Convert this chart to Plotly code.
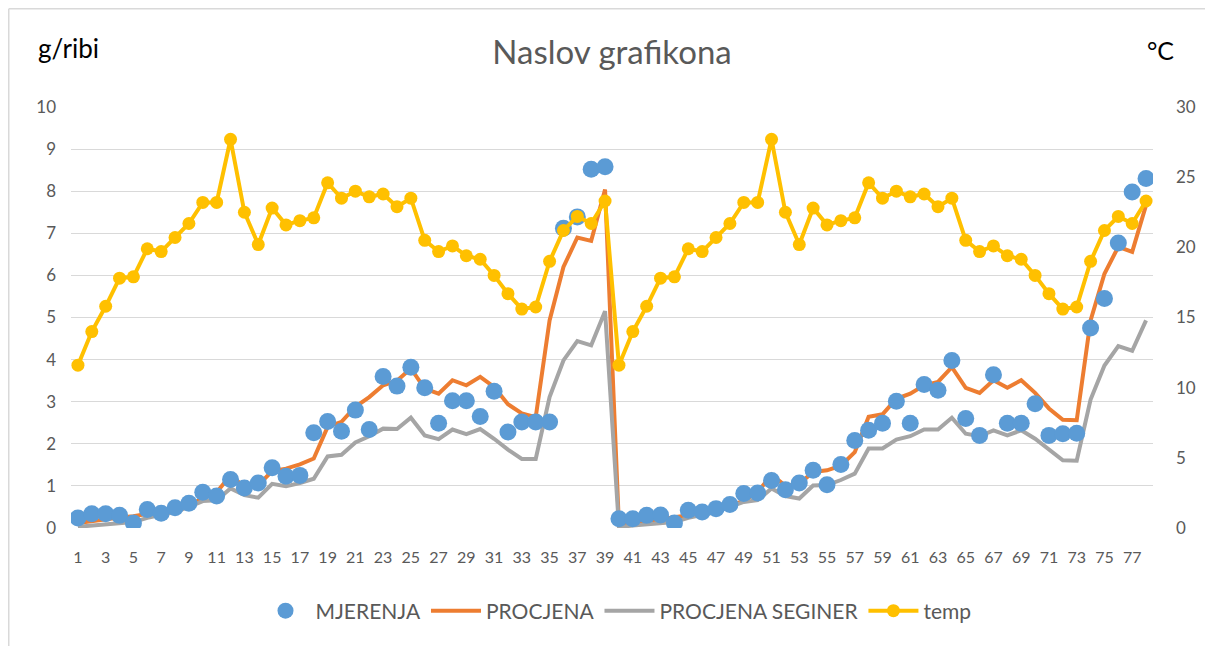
import plotly.graph_objects as go

categories = list(range(1, 79))
tick_labels = [str(i) for i in range(1, 79, 2)]

mjerenja = [0.24, 0.34, 0.34, 0.30, 0.12, 0.44, 0.35, 0.48, 0.59, 0.85, 0.76, 1.15, 0.95, 1.07, 1.43, 1.23, 1.25, 2.26, 2.53, 2.30, 2.80,
            2.34, 3.60, 3.37, 3.82, 3.33, 2.49, 3.02, 3.02, 2.65, 3.25, 2.28, 2.52, 2.52, 2.52, 7.12, 7.39, 8.52, 8.58,
            0.22, 0.22, 0.30, 0.31, 0.12, 0.42, 0.38, 0.46, 0.56, 0.82, 0.83, 1.13, 0.91, 1.07, 1.37, 1.03, 1.51, 2.08, 2.32,
            2.49, 3.01, 2.49, 3.41, 3.27, 3.98, 2.60, 2.20, 3.64, 2.49, 2.49, 2.95, 2.20, 2.24, 2.25, 4.75, 5.45, 6.77, 7.98, 8.30]

procjena = [0.12, 0.17, 0.21, 0.25, 0.28, 0.33, 0.38, 0.45, 0.55, 0.70, 0.85, 1.25, 0.98, 1.02, 1.35, 1.41, 1.51, 1.65, 2.40, 2.52,
            2.88, 3.11, 3.39, 3.50, 3.79, 3.31, 3.19, 3.51, 3.39, 3.59, 3.35, 2.94, 2.72, 2.63, 4.93, 6.20, 6.90, 6.82, 8.04,
            0.05, 0.12, 0.17, 0.21, 0.25, 0.30, 0.35, 0.42, 0.52, 0.65, 0.85, 1.27, 1.00, 1.05, 1.33, 1.37, 1.48, 1.80, 2.64,
            2.70, 3.07, 3.19, 3.39, 3.47, 3.82, 3.33, 3.21, 3.51, 3.33, 3.51, 3.21, 2.84, 2.57, 2.56, 4.93, 6.04, 6.68, 6.56, 7.67]

procjena_seginer = [0.03, 0.06, 0.09, 0.12, 0.14, 0.24, 0.30, 0.38, 0.50, 0.64, 0.66, 0.94, 0.78, 0.72, 1.05, 0.99, 1.07, 1.17, 1.70,
                    1.74, 2.03, 2.18, 2.36, 2.35, 2.62, 2.20, 2.11, 2.34, 2.23, 2.35, 2.12, 1.86, 1.64, 1.64, 3.11, 3.98, 4.44, 4.34, 5.15,
                    0.02, 0.06, 0.09, 0.12, 0.14, 0.24, 0.30, 0.38, 0.50, 0.62, 0.66, 0.94, 0.76, 0.70, 1.01, 1.02, 1.14, 1.29, 1.89,
                    1.89, 2.10, 2.18, 2.34, 2.34, 2.62, 2.24, 2.18, 2.32, 2.20, 2.32, 2.12, 1.85, 1.61, 1.60, 3.05, 3.86, 4.32, 4.21, 4.93]

temp = [11.6, 14.0, 15.8, 17.8, 17.9, 19.9, 19.7, 20.7, 21.7, 23.2, 23.2, 27.7, 22.5, 20.2, 22.8, 21.6, 21.9, 22.1, 24.6, 23.5,
        24.0, 23.6, 23.8, 22.9, 23.5, 20.5, 19.7, 20.1, 19.4, 19.15, 18.0, 16.7, 15.6, 15.75, 19.0, 21.2, 22.2, 21.7, 23.3,
        11.6, 14.0, 15.8, 17.8, 17.9, 19.9, 19.7, 20.7, 21.7, 23.2, 23.2, 27.7, 22.5, 20.2, 22.8, 21.6, 21.9, 22.1, 24.6, 23.5,
        24.0, 23.6, 23.8, 22.9, 23.5, 20.5, 19.7, 20.1, 19.4, 19.15, 18.0, 16.7, 15.6, 15.75, 19.0, 21.2, 22.2, 21.7, 23.3]

FONT = "Lato, 'Open Sans', sans-serif"
GREY_TXT = "#595959"

# page is rendered with an 8px body margin: figure coords = page coords - 8
W, H = 1213, 646
L, R, T, B = 63, 68, 99, 126
pw = W - L - R
ph = H - T - B


def px_x(page_x):
    return (page_x - 8 - L) / pw


def px_y(page_y):
    return (H - B - (page_y - 8)) / ph


fig = go.Figure()
fig.add_trace(go.Scatter(x=categories, y=procjena, name="PROCJENA", mode="lines",
                         line=dict(color="#ED7D31", width=4), legendrank=2))
fig.add_trace(go.Scatter(x=categories, y=procjena_seginer, name="PROCJENA SEGINER", mode="lines",
                         line=dict(color="#A5A5A5", width=4), legendrank=3))
fig.add_trace(go.Scatter(x=categories, y=mjerenja, name="MJERENJA", mode="markers",
                         marker=dict(color="#5B9BD5", size=17), legendrank=1))
fig.add_trace(go.Scatter(x=categories, y=temp, name="temp", mode="lines+markers", yaxis="y2",
                         line=dict(color="#FFC000", width=4),
                         marker=dict(color="#FFC000", size=13), legendrank=4))

fig.update_layout(
    width=W, height=H,
    paper_bgcolor="white", plot_bgcolor="white",
    margin=dict(l=L, r=R, t=T, b=B),
    font=dict(family=FONT, color=GREY_TXT, size=16),
    title=dict(text="Naslov grafikona", x=0.5, xanchor="center", xref="paper",
               y=1 - (52 - 8) / H, yref="container", yanchor="middle",
               font=dict(size=33, color=GREY_TXT, family=FONT)),
    xaxis=dict(range=[0.5, 78.5], tickmode="array", tickvals=list(range(1, 79, 2)), ticktext=tick_labels,
               showgrid=False, zeroline=False, showline=False, ticks="", ticklabelstandoff=18,
               tickfont=dict(size=16, color=GREY_TXT), tickangle=0),
    yaxis=dict(range=[0, 10], dtick=1, showgrid=True, gridcolor="#D9D9D9", gridwidth=1.3,
               zeroline=False, showline=False, ticks="", ticklabelstandoff=14,
               tickfont=dict(size=17, color=GREY_TXT)),
    yaxis2=dict(range=[0, 30], dtick=5, overlaying="y", side="right", showgrid=False,
                zeroline=False, showline=False, ticks="", ticklabelstandoff=22,
                tickfont=dict(size=17, color=GREY_TXT)),
    legend=dict(orientation="h", x=px_x(616), xanchor="center", xref="paper",
                y=1 - (611 - 8) / H, yref="container", yanchor="middle",
                font=dict(size=21, color=GREY_TXT), traceorder="normal", itemwidth=50),
    showlegend=True,
)

fig.add_annotation(text="g/ribi", x=px_x(68), y=px_y(48), xref="paper", yref="paper",
                   showarrow=False, xanchor="center", yanchor="middle",
                   font=dict(size=26, color="#000000", family=FONT))
fig.add_annotation(text="°C", x=px_x(1160), y=px_y(50), xref="paper", yref="paper",
                   showarrow=False, xanchor="center", yanchor="middle",
                   font=dict(size=25, color="#000000", family=FONT))

# chart frame (light grey)
fig.add_shape(type="line", xref="paper", yref="paper",
              x0=(0.75 - L) / pw, x1=(0.75 - L) / pw, y0=(H - B - 640) / ph, y1=(H - B - 0.75) / ph,
              line=dict(color="#D9D9D9", width=1.5))
fig.add_shape(type="line", xref="paper", yref="paper",
              x0=(0.75 - L) / pw, x1=(W - L) / pw, y0=(H - B - 0.75) / ph, y1=(H - B - 0.75) / ph,
              line=dict(color="#D9D9D9", width=1.5))

fig.write_html("out.html")
